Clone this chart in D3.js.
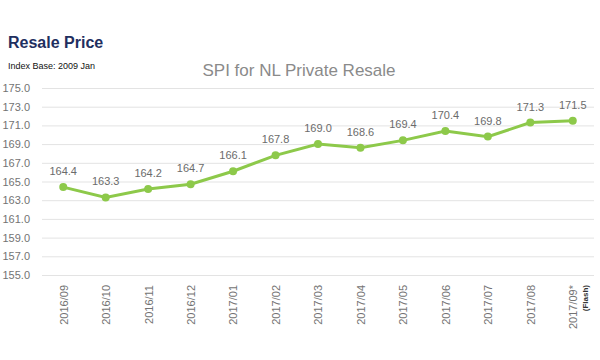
<!DOCTYPE html>
<html><head><meta charset="utf-8">
<script src="https://cdn.jsdelivr.net/npm/d3@7"></script>
<style>body{margin:0;background:#fff}svg{display:block;font-family:Arial,"Liberation Sans",sans-serif}</style>
</head><body>
<svg id="c" width="600" height="360"></svg>
<script>
const categories = ["2016/09","2016/10","2016/11","2016/12","2017/01","2017/02","2017/03","2017/04","2017/05","2017/06","2017/07","2017/08","2017/09*"];
const values = [164.4,163.3,164.2,164.7,166.1,167.8,169.0,168.6,169.4,170.4,169.8,171.3,171.5];
const yTicks = [155,157,159,161,163,165,167,169,171,173,175];

const svg = d3.select("#c");
const x = d3.scalePoint().domain(categories).range([42,594]).padding(0.5);
const y = d3.scaleLinear().domain([155,175]).range([275,88]);

svg.append("text").attr("x",8).attr("y",48).attr("font-size",16).attr("font-weight","bold").attr("fill","#1f2f60").text("Resale Price");
svg.append("text").attr("x",8).attr("y",69).attr("font-size",9).attr("fill","#111").text("Index Base: 2009 Jan");
svg.append("text").attr("x",299).attr("y",76).attr("text-anchor","middle").attr("font-size",17).attr("fill","#8a8a8a").text("SPI for NL Private Resale");

const gy = svg.append("g").attr("transform","translate(42,0)")
  .call(d3.axisLeft(y).tickValues(yTicks).tickSize(-552).tickFormat(d3.format(".1f")));
gy.select(".domain").remove();
gy.selectAll(".tick line").attr("stroke","#e3e3e3");
gy.selectAll(".tick text").attr("x",-12).attr("font-size",11).attr("fill","#737373").attr("font-family","Arial,'Liberation Sans',sans-serif");

const gx = svg.append("g").attr("transform","translate(0,275)")
  .call(d3.axisBottom(x).tickSize(0).tickFormat(d => d));
gx.select(".domain").remove();
gx.selectAll(".tick text").attr("transform","rotate(-90)").attr("text-anchor","end")
  .attr("x",-10).attr("y",0).attr("dy","0.35em").attr("font-size",11).attr("fill","#737373")
  .attr("font-family","Arial,'Liberation Sans',sans-serif");
gx.selectAll(".tick").filter(d => d === categories[categories.length-1]).append("text")
  .attr("transform","rotate(-90)").attr("text-anchor","end").attr("x",-10).attr("y",12).attr("dy","0.35em")
  .attr("font-size",8).attr("font-weight","bold").attr("fill","#333").attr("font-family","Arial,'Liberation Sans',sans-serif").text("(Flash)");

const line = d3.line().x((d,i)=>x(categories[i])).y(d=>y(d));
svg.append("path").datum(values).attr("d",line).attr("fill","none").attr("stroke","#8dc94a").attr("stroke-width",3);
svg.selectAll("circle.p").data(values).join("circle").attr("cx",(d,i)=>x(categories[i])).attr("cy",d=>y(d)).attr("r",4).attr("fill","#8dc94a");
svg.selectAll("text.v").data(values).join("text").attr("class","v")
  .attr("x",(d,i)=>x(categories[i])).attr("y",d=>y(d)-12).attr("text-anchor","middle")
  .attr("font-size",11).attr("fill","#6b6b6b").text(d=>d.toFixed(1));
</script>
</body></html>
